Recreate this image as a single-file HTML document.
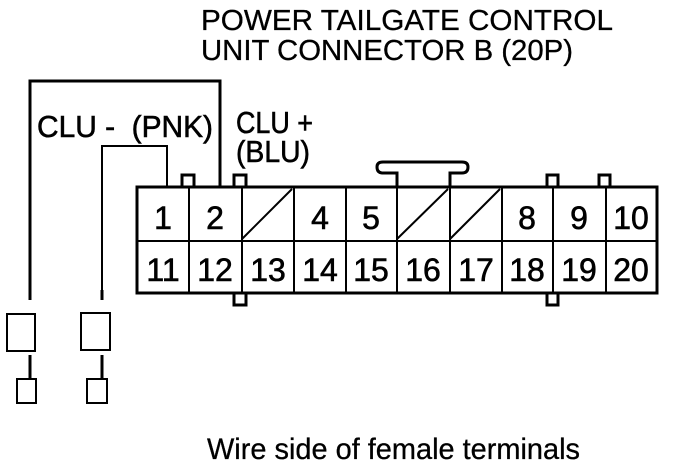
<!DOCTYPE html>
<html><head><style>
html,body{margin:0;padding:0;background:#fff;}
svg{display:block;}
text{font-family:"Liberation Sans",Arial,sans-serif;fill:#000;stroke:#000;stroke-width:0.6;}
</style></head><body>
<svg width="688" height="468" viewBox="0 0 688 468" xmlns="http://www.w3.org/2000/svg">
<text x="201" y="30" font-size="29" textLength="412" lengthAdjust="spacingAndGlyphs" style="stroke-width:0.3">POWER TAILGATE CONTROL</text>
<text x="201" y="60" font-size="29" textLength="372" lengthAdjust="spacingAndGlyphs" style="stroke-width:0.3">UNIT CONNECTOR B (20P)</text>
<text x="37" y="137" font-size="31" textLength="176" lengthAdjust="spacingAndGlyphs">CLU -&#160;&#160;(PNK)</text>
<text x="236" y="133" font-size="31" textLength="77" lengthAdjust="spacingAndGlyphs">CLU +</text>
<text x="236" y="162" font-size="31" textLength="74" lengthAdjust="spacingAndGlyphs">(BLU)</text>
<text x="207" y="459" font-size="30" textLength="373" lengthAdjust="spacingAndGlyphs" style="stroke-width:0.3">Wire side of female terminals</text>

<g stroke="#000" fill="none">
<polyline points="30,300 30,81 220,81 220,187" stroke-width="3"/>
<polyline points="220,81 220,187" stroke-width="2"/>
<polyline points="102,300 102,146 167,146 167,187" stroke-width="2"/>
<line x1="102" y1="290" x2="102" y2="300" stroke-width="3"/>
<rect x="182" y="175" width="12" height="12" stroke-width="3"/>
<rect x="234" y="175" width="12" height="12" stroke-width="3"/>
<rect x="234" y="293" width="12" height="12" stroke-width="3"/>
<rect x="547" y="175" width="11" height="12" stroke-width="3"/>
<rect x="599" y="175" width="11" height="12" stroke-width="3"/>
<rect x="547" y="293" width="11" height="12" stroke-width="3"/>
<path d="M397,187 V173 H383 Q377,173 377,167 Q377,162 383,162 H462 Q468,162 468,167 Q468,173 462,173 H450 V187" stroke-width="3" fill="#fff"/>
<rect x="137" y="187" width="520" height="106" stroke-width="3" fill="#fff"/>
<line x1="137" y1="241" x2="657" y2="241" stroke-width="2"/>
<g stroke-width="2">
<line x1="189" y1="187" x2="189" y2="293"/>
<line x1="242" y1="187" x2="242" y2="293"/>
<line x1="294" y1="187" x2="294" y2="293"/>
<line x1="346" y1="187" x2="346" y2="293"/>
<line x1="397" y1="187" x2="397" y2="293"/>
<line x1="450" y1="187" x2="450" y2="293"/>
<line x1="502" y1="187" x2="502" y2="293"/>
<line x1="553" y1="187" x2="553" y2="293"/>
<line x1="606" y1="187" x2="606" y2="293"/>
<line x1="242" y1="239" x2="292" y2="189"/>
<line x1="397" y1="239" x2="448" y2="189"/>
<line x1="450" y1="239" x2="500" y2="189"/>
</g>
<rect x="7" y="314" width="28" height="37" stroke-width="2"/>
<line x1="30" y1="355" x2="30" y2="379" stroke-width="3"/>
<rect x="17" y="379" width="19" height="24" stroke-width="2"/>
<rect x="81" y="313" width="29" height="37" stroke-width="2"/>
<line x1="102" y1="355" x2="102" y2="379" stroke-width="3"/>
<rect x="87" y="379" width="20" height="24" stroke-width="2"/>
</g>

<g font-size="32" text-anchor="middle" style="stroke-width:0.8">
<text x="163" y="229">1</text>
<text x="215" y="229">2</text>
<text x="320" y="229">4</text>
<text x="371" y="229">5</text>
<text x="527" y="229">8</text>
<text x="579" y="229">9</text>
<text x="631" y="229">10</text>
<text x="163" y="281">11</text>
<text x="215" y="281">12</text>
<text x="268" y="281">13</text>
<text x="320" y="281">14</text>
<text x="371" y="281">15</text>
<text x="423" y="281">16</text>
<text x="476" y="281">17</text>
<text x="527" y="281">18</text>
<text x="579" y="281">19</text>
<text x="631" y="281">20</text>
</g>
</svg>
</body></html>
